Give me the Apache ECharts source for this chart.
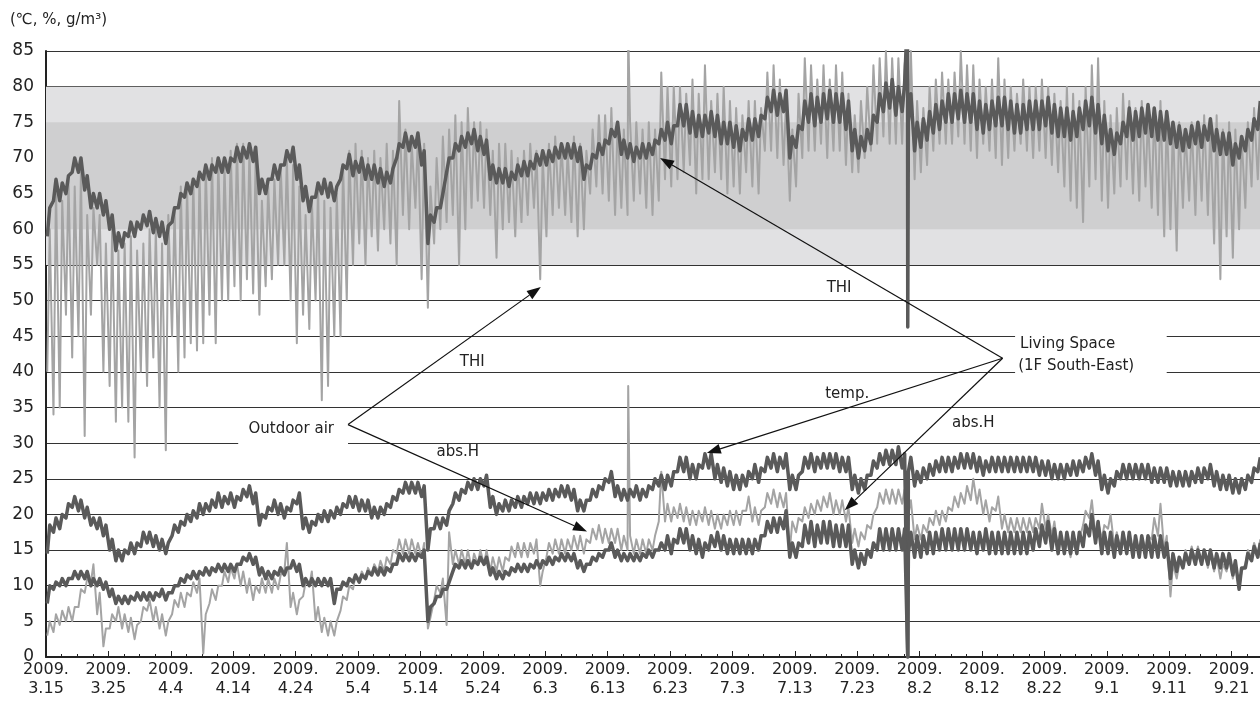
<!DOCTYPE html>
<html>
<head>
<meta charset="utf-8">
<script src="https://cdn.jsdelivr.net/npm/echarts@6/dist/echarts.min.js"></script>
<style>
html,body{margin:0;padding:0;background:#fff}
#chart{width:1260px;height:717px}
</style>
</head>
<body>
<div id="chart"></div>
<script>
// Tick labels along the time axis (one every 10 days from 2009.3.15)
const yearLabel = '2009.';
const dateLabels = ['3.15','3.25','4.4','4.14','4.24','5.4','5.14','5.24','6.3','6.13','6.23','7.3','7.13','7.23','8.2','8.12','8.22','9.1','9.11','9.21'];

// Readings, two per day (early-morning low, afternoon high), day 0 = 2009.3.15
const thiOutdoor = [
  40,60, 34,66, 35,64, 48,67, 42,66, 45,68, 31,62, 48,63, 55,62, 40,58,
  38,60, 33,57, 35,58, 33,59, 28,57, 40,58, 38,60, 42,60, 35,58, 29,62,
  45,63, 40,66, 42,66, 44,67, 43,68, 44,69, 48,70, 44,70, 50,69, 50,71,
  52,72, 50,72, 53,71, 51,70, 48,64, 52,66, 53,67, 55,69, 55,70, 50,69,
  44,66, 48,62, 46,64, 50,66, 36,64, 38,63, 45,65, 45,69, 50,71, 55,72,
  58,71, 55,70, 59,71, 57,70, 60,72, 58,71, 55,78, 62,74, 60,72, 63,73,
  53,72, 49,66, 58,70, 60,73, 61,74, 62,76, 55,75, 60,77, 63,75, 64,75,
  63,74, 62,71, 56,72, 60,72, 61,71, 59,70, 61,71, 62,72, 63,71, 53,70,
  59,72, 62,73, 63,72, 62,71, 61,73, 59,72, 60,71, 65,74, 66,76, 65,76,
  64,77, 62,75, 63,74, 62,75, 64,75, 65,74, 63,75, 62,74, 64,82, 67,80,
  66,80, 67,80, 68,79, 69,81, 65,79, 67,83, 67,78, 68,79, 67,80, 65,78,
  66,77, 65,76, 68,78, 66,78, 65,77, 71,82, 71,83, 70,81, 69,78, 64,74,
  66,79, 70,84, 71,83, 71,81, 72,83, 70,81, 71,83, 71,82, 69,79, 68,76,
  68,78, 70,80, 71,83, 72,84, 73,85, 72,84, 72,84, 72,83, 71,85, 67,78,
  68,77, 69,80, 71,81, 72,82, 72,81, 72,82, 73,85, 72,83, 71,83, 70,81,
  72,80, 71,81, 70,84, 69,81, 70,80, 71,79, 72,81, 71,80, 70,80, 71,81,
  70,80, 69,79, 68,78, 66,80, 64,79, 63,78, 61,80, 66,83, 67,84, 64,78,
  63,76, 65,77, 66,79, 67,78, 65,77, 64,78, 66,76, 63,77, 62,78, 59,76,
  60,75, 57,75, 63,74, 64,75, 62,75, 64,76, 62,75, 58,76, 53,74, 59,75,
  56,74, 60,73, 63,75, 66,77, 67,76
];
const thiLiving = [
  59,63, 64,67, 64,66.5, 65,67.5, 68,70, 68,70, 65.5,67.5, 63,65, 63,65, 62,64,
  60,62, 57,59.5, 57.5,59.5, 59,61, 59,61, 60,62, 60.5,62.5, 59.5,61.5, 59,61, 58,60.5,
  61,63, 63,65, 64.5,66.5, 65,67, 66,68, 67,69, 67,69, 68,70, 68,70, 68,70,
  69.5,71.5, 69.5,71.5, 70,72, 69.5,71.5, 65,67, 65,67, 67,69, 67,69, 69,71, 69.5,71.5,
  67,69, 64,66, 62.5,64.5, 64.5,66.5, 65,67, 64.5,66.5, 64,66, 67,69, 68.5,70.5, 67.5,69.5,
  68,70, 67,69, 67,69, 66.5,68.5, 66,68, 66.5,68.5, 70,72, 71.5,73.5, 71,73, 71.5,73.5,
  69,71, 58,62, 61,63, 63,65, 68,70, 70,72, 71,73, 71.5,73.5, 72,74, 71,73,
  70.5,72.5, 67,69, 66.5,68.5, 66.5,68.5, 66,68, 67,69, 67.5,69.5, 67.5,69.5, 68.5,70.5, 69,71,
  69,71, 69.5,71.5, 70,72, 70,72, 70,72, 69.5,71.5, 67,69, 68.5,70.5, 70,72, 70.5,72.5,
  72,74, 73,75, 70.5,72.5, 70,72, 69.5,71.5, 70,72, 70,72, 70.5,72.5, 72,74, 72.5,75,
  72,74.5, 74.5,77.5, 74.5,77.5, 73.5,76.5, 73,76, 73,76, 73.5,76.5, 73,76, 72,75, 72,75,
  71.5,74.5, 71,74, 72.5,75.5, 72.5,75.5, 73,76, 75.5,78.5, 76.5,79.5, 76,79, 76.5,79.5, 70,73,
  71.5,74.5, 74,78, 75,79, 74.5,78.5, 75,79, 75.5,79.5, 75,79, 75,79, 74,78, 71,74,
  70,73, 71,74, 72,76, 75,79, 76.5,80.5, 77,81, 76,80, 76.5,80.5, 75,79, 71,75,
  71.5,75.5, 72.5,76.5, 73.5,77.5, 74,78, 75,79, 75,79, 75.5,79.5, 75,79, 75,79, 74,78,
  73.5,77.5, 74,78, 74.5,78.5, 74.5,78.5, 74,78, 73.5,77.5, 73.5,77.5, 74,78, 74,78, 74,78,
  74.5,78.5, 73.5,77.5, 73,77, 73,77, 72.5,76.5, 73,77, 74,78, 74.5,78.5, 73.5,77.5, 72,76,
  71,74, 70.5,73.5, 72,75, 73,77, 72.5,76.5, 73,77, 73.5,77.5, 73,77, 72.5,76.5, 72.5,76.5,
  72,75, 71.5,74.5, 71,74, 71.5,74.5, 72,75, 71.5,74.5, 72.5,75.5, 71,74, 70.5,73.5, 70.5,73.5,
  69,72, 70,73, 71,74, 72.5,75.5, 74,78
];
const tempLiving = [
  14.5,18.5, 17.5,19.5, 18,20, 19.5,21.5, 21,22.5, 20.5,22, 19.5,21, 18.5,19.5, 18,19.5, 17,18.5,
  15,16.5, 13.5,15, 13.5,15, 14.5,16, 14.5,16, 15.5,17.5, 16,17.5, 15.5,17, 15,16.5, 14.5,16,
  17,18.5, 17.5,19, 18.5,20, 19,20.5, 19.5,21.5, 20,21.5, 20.5,22, 21,23, 21,22.5, 21.5,23,
  21,22.5, 22,23.5, 22.5,24, 21.5,23, 18.5,20, 19.5,21, 20.5,22, 20,21.5, 19.5,21, 20.5,22,
  21.5,23, 18,19.5, 17.5,19, 18.5,20, 19,20.5, 19,20.5, 19.5,21, 20,21.5, 21,22.5, 21,22.5,
  20.5,22, 20.5,22, 19.5,21, 19.5,21, 20,21.5, 21,22.5, 22,23.5, 23,24.5, 23,24.5, 23,24.5,
  22.5,24, 15,18, 18,19.5, 18,19.5, 18.5,20.5, 21.5,23, 22,23.5, 23,24.5, 23.5,25, 23.5,25,
  24,25.5, 21,22.5, 20,21.5, 20.5,22, 20.5,22, 21,22.5, 21,22.5, 21.5,23, 21.5,23, 21.5,23,
  22,23.5, 22,23.5, 22.5,24, 22.5,24, 22,23.5, 20.5,22, 20.5,22, 22,23.5, 22.5,24, 23.5,25,
  24.5,26, 22.5,24, 22,23.5, 22,23.5, 22.5,24, 22,23.5, 22.5,24, 23.5,25, 24,25.5, 23.5,25.5,
  24,26, 26,28, 26,28, 25,27, 25,27, 26.5,28.5, 26.5,28.5, 25,27, 24.5,26.5, 24,26,
  23.5,25.5, 23.5,25.5, 24,26, 25,27, 24.5,26.5, 26,28, 26.5,28.5, 26,28, 26.5,28.5, 23.5,25.5,
  23.5,25.5, 26,28, 26.5,28.5, 26,28, 26.5,28.5, 26.5,28.5, 26.5,28.5, 26,28, 26,28, 23.5,25.5,
  23,25, 23.5,25.5, 25.5,27.5, 26.5,28.5, 27,29, 27,29, 27,29.5, 26.5,28.5, 26,28, 24,26,
  24.5,26.5, 25,27, 25.5,27.5, 26,28, 26,28, 26,28, 26.5,28.5, 26.5,28.5, 26.5,28.5, 26,28,
  25.5,27.5, 26,28, 26,28, 26,28, 26,28, 26,28, 26,28, 26,28, 26,28, 25.5,27.5,
  25.5,27.5, 25,27, 25,27, 25,27, 25.5,27.5, 25.5,27.5, 26,28, 26.5,28.5, 25.5,27.5, 23.5,25.5,
  23,25, 24,26, 25,27, 25,27, 25,27, 25,27, 25,27, 24.5,26.5, 24.5,26.5, 24.5,26.5,
  24,26, 24,26, 24,26, 24,26, 24.5,26.5, 24.5,26.5, 25,27, 24,26, 23.5,25.5, 23.5,25.5,
  23,25, 23,25, 23.5,25.5, 24.5,26.5, 26,28
];
const absHLiving = [
  7.5,10, 9.5,10.5, 10,11, 10,11, 11,12, 11,12, 11,12, 10,11, 10,11, 9.5,10.5,
  8.5,9.5, 7.5,8.5, 7.5,8.5, 7.5,8.5, 8,9, 8,9, 8,9, 8,9, 8.5,9.5, 8,9,
  9,10, 10,11, 10.5,11.5, 11,12, 11,12, 11.5,12.5, 11.5,12.5, 12,13, 12,13, 12,13,
  12,13, 13,14, 13.5,14.5, 13,14, 11.5,12.5, 11,12, 11,12, 11.5,12.5, 11.5,12.5, 12.5,13.5,
  12,13, 10,11, 10,11, 10,11, 10,11, 10,11, 7.5,9.5, 9.5,10.5, 10,11, 10.5,11.5,
  10.5,11.5, 11,12, 11.5,12.5, 11.5,12.5, 11.5,12.5, 12,13, 13,14.5, 13.5,14.5, 13.5,14.5, 13.5,14.5,
  14,15, 5,7, 7.5,8.5, 8.5,9.5, 9.5,10.5, 12,13, 12.5,13.5, 12.5,13.5, 12.5,13.5, 13,14,
  13,14, 11.5,12.5, 11,12, 11,12, 11.5,12.5, 12,13, 12,13, 12,13, 12.5,13.5, 12.5,13.5,
  13,14, 13,14, 13.5,14.5, 13.5,14.5, 13.5,14.5, 12.5,13.5, 12,13, 13,14, 13.5,14.5, 14,15,
  15,16, 14,15, 13.5,14.5, 13.5,14.5, 13.5,14.5, 13.5,14.5, 14,15, 14,15, 15,16, 15,17,
  14.5,16.5, 16,18, 16,18, 15,17, 14.5,16.5, 14,16, 15,17, 15.5,17.5, 15,17, 14.5,16.5,
  14.5,16.5, 14.5,16.5, 14.5,16.5, 14.5,16.5, 15,17, 17,19, 17.5,19.5, 17.5,19.5, 18,20.5, 14,16,
  14,16, 15.5,18.5, 16,19, 15.5,18.5, 16,19, 16,19, 15.5,18.5, 15.5,18.5, 15.5,18.5, 13,15,
  12.5,14.5, 13,15, 14,16, 15,18, 15,18, 15,18, 15,18, 15,18, 14.5,17.5, 14,17,
  14,17, 14.5,17.5, 14.5,17.5, 15,18, 15,18, 15,18, 15,18, 15,18, 15,17.5, 14.5,17.5,
  15,18, 14.5,17.5, 14.5,17.5, 14.5,17.5, 14.5,17.5, 14.5,17.5, 14.5,17.5, 14.5,17.5, 15,18, 15.5,18.5,
  16,19, 15,18, 14.5,17.5, 14.5,17.5, 14.5,17.5, 14.5,17.5, 15.5,18.5, 17,20, 16,19, 14.5,17.5,
  14.5,17.5, 14,17, 14.5,17.5, 14.5,17.5, 14,17, 14,17, 14,17, 14,17, 14,17, 14,16,
  11,14.5, 12,14, 12.5,14.5, 13,15, 13,15, 13,15, 13,15, 12.5,14.5, 12.5,14.5, 12.5,14.5,
  11.5,13.5, 9.5,12.5, 12.5,14.5, 13.5,15.5, 14,16
];
const absHOutdoor = [
  3,5, 3.5,6, 4.5,6.5, 5,7, 5,7, 7,9.5, 9,11, 10.5,13, 6,9, 1.5,4,
  4,6, 5,7, 4,6, 3.5,5.5, 2.5,4.5, 5,7, 6.5,8, 5,7, 4,6, 3,5,
  6,8, 7,9, 7,9, 8.5,10.5, 9,11, 0.5,6, 7.5,9.5, 8,10, 10,12, 10.5,12.5,
  11,13, 10,12, 9,11, 8,10, 9,11, 9,11, 9,11, 9.5,11.5, 12,16, 7,9,
  6,8, 8.5,10.5, 10,12, 5,7, 3.5,5.5, 3,5, 3,5, 6.5,8.5, 8,10, 9.5,11.5,
  10.5,12, 11,12.5, 11.5,13, 12,13.5, 12,14, 13,15, 14.5,16.5, 14.5,16.5, 14.5,16.5, 14.5,16,
  14,16, 4,5.5, 8,10, 9,11, 4.5,17.5, 13,15, 13,15, 13,15, 12.5,14.5, 13,15,
  13,15, 12,14, 12,14, 12,14, 13.5,15.5, 14,16, 14,16, 14,16, 14.5,16.5, 10,12,
  14,16, 14.5,16.5, 14.5,16.5, 14.5,16.5, 15,17, 15,17, 14.5,16.5, 16,18, 16.5,18.5, 16,18,
  16,18, 16,18, 15,17, 15,17, 14.5,16.5, 14.5,16.5, 14.5,16.5, 15,17, 19,26, 19,21.5,
  19,21, 19.5,21.5, 19,21, 18.5,20.5, 18.5,20.5, 19,21, 18.5,20.5, 18,20, 18,20, 18.5,20.5,
  18.5,20.5, 18.5,20.5, 20.5,22.5, 19,21, 18.5,20.5, 21,23, 21.5,23.5, 21,23, 21,23, 15,19,
  17.5,19.5, 19,21, 19.5,21.5, 20,22, 20.5,22.5, 21,23, 20,22, 20,22, 19,21, 16,18,
  15.5,17.5, 16.5,18.5, 18,20, 21,23, 21.5,23.5, 21.5,23.5, 21.5,23.5, 21.5,23.5, 20,22, 16.5,18.5,
  16.5,18.5, 17.5,19.5, 18.5,20.5, 18.5,20.5, 19,21, 20.5,22.5, 21,23, 21.5,24, 22,25, 21.5,23.5,
  20,22, 19,21, 20.5,22.5, 18,20, 17.5,19.5, 17.5,19.5, 17.5,19.5, 17.5,19.5, 17.5,19.5, 18,21.5,
  18,20, 17,19, 15,17, 14.5,16.5, 14,16, 14.5,16.5, 18.5,20.5, 19.5,22, 17,19, 16.5,18.5,
  18,20, 15.5,17.5, 15,17, 15,17, 14.5,16.5, 15,17, 15,17, 16.5,19.5, 17,21.5, 15,17,
  8.5,13, 11,13, 13,15, 13.5,15.5, 13.5,15.5, 13,15, 12.5,14.5, 12,14, 11,13, 12,14,
  11,13, 9.5,12, 13,15, 14,16, 14.5,16.5
];

// Single-hour excursions: [day, value]
const thiOutdoorSpikes = [[93.3, 88], [138.1, 88]];
const absHOutdoorSpikes = [[93.3, 38]];
const thiLivingDropout = [[138.06, 90], [138.1, 46.3]];
const tempLivingDropout = [[138.1, 0]];
const absHLivingDropout = [[138.1, 0]];

// Comfort bands on the THI scale
const bandOuter = [55, 80];
const bandInner = [60, 75];

// Annotation anchors in data units [day, value]
const outdoorOrigin = [48.4, 32.6];
const outdoorThiTip = [79.3, 51.9];
const outdoorAbsHTip = [86.7, 17.6];
const livingOrigin = [153.3, 41.9];
const livingThiTip = [98.4, 70.0];
const livingTempTip = [105.9, 28.6];
const livingAbsHTip = [128.0, 20.6];

const FONT = '"DejaVu Sans", "Noto Sans", sans-serif';
const LIGHT = '#a4a4a4';
const DARK = '#5a5a5a';

function toPoints(pairs, extra) {
  const pts = pairs.map((v, i) => [Math.floor(i / 2) + (i % 2 ? 0.6 : 0.2), v]);
  return pts.concat(extra || []).sort((a, b) => a[0] - b[0]);
}

function lineSeries(name, pairs, extra, color, width) {
  return {
    name, type: 'line', data: toPoints(pairs, extra),
    showSymbol: false, symbol: 'none', clip: true, silent: true,
    lineStyle: { color, width, join: 'round' }
  };
}

const chart = echarts.init(document.getElementById('chart'), null, { renderer: 'canvas' });

chart.setOption({
  animation: false,
  backgroundColor: '#fff',
  title: {
    text: '(℃, %, g/m³)', left: 5, top: 8,
    textStyle: { fontFamily: FONT, fontSize: 15, fontWeight: 'normal', color: '#222' }
  },
  grid: { left: 46, right: 0, top: 51, bottom: 60, containLabel: false },
  xAxis: {
    type: 'value', min: 0, max: 194.55, interval: 10,
    axisLine: { show: true, lineStyle: { color: '#222', width: 2 } },
    axisTick: { show: true, inside: true, length: 6, lineStyle: { color: '#222', width: 1 } },
    minorTick: { show: true, splitNumber: 4, length: 3, lineStyle: { color: '#222', width: 1 } },
    splitLine: { show: false },
    axisLabel: {
      showMaxLabel: false, margin: 3,
      fontFamily: FONT, fontSize: 16, lineHeight: 19, color: '#222',
      formatter: v => {
        const k = Math.round(v / 10);
        return (Math.abs(v - k * 10) < 1e-6 && dateLabels[k]) ? yearLabel + '\n' + dateLabels[k] : '';
      }
    }
  },
  yAxis: {
    type: 'value', min: 0, max: 85, interval: 5,
    axisLine: { show: true, lineStyle: { color: '#222', width: 2 } },
    axisTick: { show: false },
    splitLine: { show: true, lineStyle: { color: '#333', width: 1.2 } },
    axisLabel: { fontFamily: FONT, fontSize: 17, color: '#222', margin: 12 }
  },
  series: [
    {
      name: 'bands', type: 'line', data: [], z: -1, silent: true,
      markArea: {
        silent: true,
        data: [
          [{ yAxis: bandOuter[0], itemStyle: { color: '#e1e1e3' } }, { yAxis: bandOuter[1] }],
          [{ yAxis: bandInner[0], itemStyle: { color: '#cfcfd0' } }, { yAxis: bandInner[1] }]
        ]
      }
    },
    lineSeries('THI outdoor', thiOutdoor, thiOutdoorSpikes, LIGHT, 2),
    lineSeries('abs.H outdoor', absHOutdoor, absHOutdoorSpikes, LIGHT, 2),
    lineSeries('THI living', thiLiving, thiLivingDropout, DARK, 3.5),
    lineSeries('temp. living', tempLiving, tempLivingDropout, DARK, 3.5),
    lineSeries('abs.H living', absHLiving, absHLivingDropout, DARK, 3.5)
  ]
});

// Annotations: arrows and captions placed through the grid's own coordinate mapping
const px = p => chart.convertToPixel({ gridIndex: 0 }, p);

function arrow(from, to) {
  const a = px(from), b = px(to);
  const dx = b[0] - a[0], dy = b[1] - a[1], len = Math.hypot(dx, dy);
  const ux = dx / len, uy = dy / len, L = 14, W = 10;
  const bx = b[0] - ux * L, by = b[1] - uy * L;
  return [
    { type: 'line', z: 100, shape: { x1: a[0], y1: a[1], x2: bx, y2: by }, style: { stroke: '#111', lineWidth: 1.2 } },
    { type: 'polygon', z: 100, shape: { points: [[b[0], b[1]], [bx - uy * W / 2, by + ux * W / 2], [bx + uy * W / 2, by - ux * W / 2]] }, style: { fill: '#111' } }
  ];
}

function caption(text, at, align) {
  const p = px(at);
  return {
    type: 'text', z: 101, x: p[0], y: p[1],
    style: { text, font: '15px ' + FONT, fill: '#222', align: align || 'center', verticalAlign: 'middle', textAlign: align || 'center', textVerticalAlign: 'middle' }
  };
}

function whiteBox(topLeft, bottomRight) {
  const a = px(topLeft), b = px(bottomRight);
  return { type: 'rect', z: 99, shape: { x: a[0], y: a[1], width: b[0] - a[0], height: b[1] - a[1] }, style: { fill: '#fff' } };
}

const graphics = [
  whiteBox([30.8, 34.2], [48.4, 29.5]),
  whiteBox([155.3, 45.9], [179.6, 39.2]),
  ...arrow(outdoorOrigin, outdoorThiTip),
  ...arrow(outdoorOrigin, outdoorAbsHTip),
  ...arrow(livingOrigin, livingThiTip),
  ...arrow(livingOrigin, livingTempTip),
  ...arrow(livingOrigin, livingAbsHTip),
  caption('Outdoor air', [39.3, 32.0]),
  caption('THI', [68.3, 41.3]),
  caption('abs.H', [66.0, 28.8]),
  caption('THI', [127.1, 51.8]),
  caption('temp.', [128.4, 36.9]),
  caption('abs.H', [148.6, 32.8]),
  caption('Living Space', [156.1, 43.9], 'left'),
  caption('(1F South-East)', [155.8, 40.8], 'left')
];

chart.setOption({ graphic: graphics });
</script>
</body>
</html>
